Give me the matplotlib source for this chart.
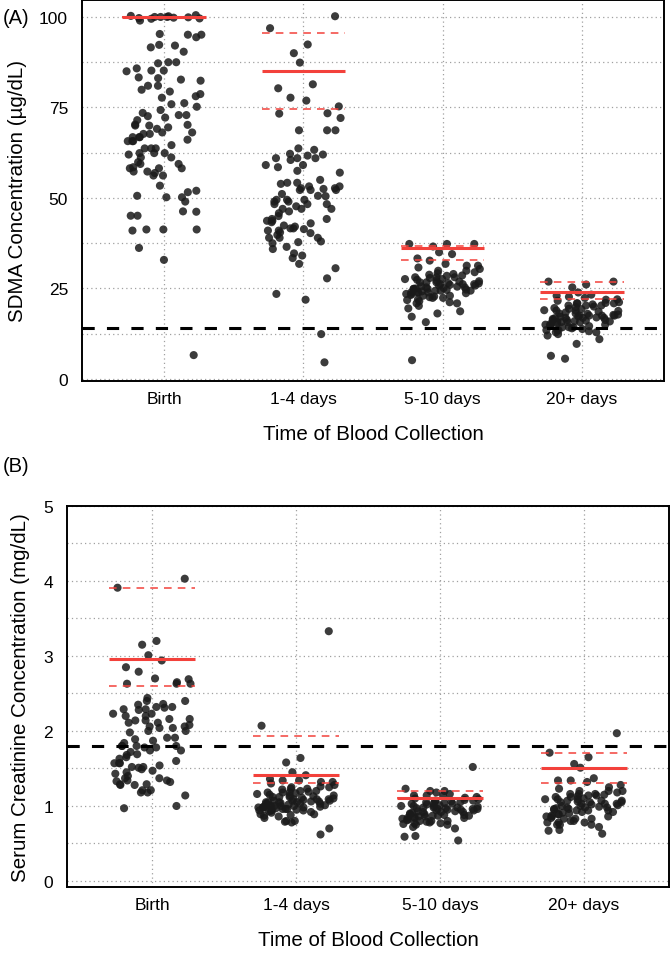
import matplotlib
matplotlib.use("Agg")
import matplotlib.pyplot as plt
import numpy as np

plt.rcParams['font.family'] = ['Liberation Sans', 'DejaVu Sans']

groups = ["Birth", "1-4 days", "5-10 days", "20+ days"]

# SDMA (ug/dL) per collection time
sdma_birth = [100.5, 100.3, 100.2, 100.0, 100.0, 99.8, 99.7, 99.5, 100.0, 99.6, 99.9, 99.0,
              95.1, 95.1, 95.3, 94.4, 92.3, 92.1, 91.6, 90.4, 87.5, 87.5, 87.2, 85.8, 85.2,
              85.2, 85.0, 83.3, 83.1, 82.4, 82.7, 81.0, 81.0, 79.9, 79.4, 78.7, 78.1, 77.7,
              76.2, 75.9, 75.2, 74.3, 73.5, 72.9, 72.9, 72.6, 72.2, 71.5, 70.3, 70.0, 70.0,
              70.2, 69.5, 69.1, 68.1, 68.1, 67.7, 67.7, 66.8, 66.8, 66.8, 66.1, 65.7, 65.7,
              65.7, 64.6, 63.7, 63.7, 63.7, 62.4, 62.4, 62.4, 62.0, 61.2, 61.2, 59.9, 59.4,
              59.4, 58.2, 58.2, 58.2, 58.5, 57.3, 57.3, 56.9, 56.2, 56.2, 53.4, 52.0, 51.6,
              50.6, 50.2, 50.2, 49.0, 46.3, 46.2, 45.1, 45.1, 41.3, 41.3, 41.3, 41.0, 36.2,
              32.9, 6.6]
sdma_d1_4 = [100.2, 96.9, 92.4, 90.0, 87.4, 81.4, 80.3, 77.7, 76.9, 75.3, 73.4, 73.3, 72.1,
             68.7, 68.7, 68.7, 63.7, 63.3, 62.2, 62.0, 61.7, 61.0, 61.0, 61.0, 60.5, 59.1,
             59.1, 58.5, 57.5, 57.0, 55.0, 54.2, 54.2, 53.9, 53.2, 53.2, 52.7, 52.7, 52.5,
             52.2, 52.2, 52.2, 51.1, 50.6, 50.5, 49.5, 49.5, 49.5, 49.0, 49.0, 48.3, 48.3,
             48.3, 47.7, 47.0, 47.0, 47.0, 46.3, 45.8, 45.0, 44.2, 44.2, 43.7, 43.7, 43.3,
             43.0, 42.4, 42.1, 41.6, 41.6, 41.4, 41.0, 41.0, 40.5, 40.3, 39.8, 39.0, 39.0,
             39.0, 38.0, 37.8, 37.5, 36.5, 35.9, 34.7, 34.1, 33.4, 31.8, 30.6, 27.8, 23.5,
             21.9, 12.4, 4.6]
sdma_d5_10 = [37.3, 37.3, 37.3, 36.6, 35.0, 34.5, 33.3, 32.7, 31.8, 31.3, 31.3, 30.8, 30.4,
              29.9, 29.9, 29.5, 29.2, 29.0, 28.8, 28.6, 28.5, 28.1, 28.1, 28.1, 27.9, 27.6,
              27.6, 27.4, 27.2, 27.0, 26.9, 26.7, 26.7, 26.7, 26.5, 26.4, 26.2, 26.2, 26.2,
              26.0, 25.8, 25.8, 25.6, 25.5, 25.3, 25.3, 25.1, 25.0, 24.9, 24.9, 24.9, 24.7,
              24.6, 24.4, 24.4, 24.4, 24.2, 23.9, 23.9, 23.9, 23.9, 23.7, 23.5, 23.5, 23.2,
              23.0, 23.0, 22.8, 22.6, 22.4, 22.4, 22.0, 21.8, 21.5, 21.2, 20.9, 20.9, 20.2,
              19.5, 18.7, 18.1, 17.2, 15.7, 5.2]
sdma_d20 = [26.9, 26.9, 26.1, 25.3, 23.9, 23.3, 23.0, 22.7, 22.4, 22.0, 21.9, 21.6, 21.2,
            21.0, 20.9, 20.9, 20.9, 20.6, 20.3, 20.3, 20.3, 20.0, 19.9, 19.6, 19.4, 19.3,
            19.0, 18.9, 18.9, 18.8, 18.6, 18.4, 18.1, 18.1, 18.0, 17.8, 17.7, 17.5, 17.5,
            17.5, 17.5, 17.3, 17.2, 17.0, 16.9, 16.9, 16.9, 16.8, 16.6, 16.3, 16.3, 16.3,
            16.1, 16.0, 15.9, 15.7, 15.7, 15.7, 15.7, 15.4, 15.2, 15.0, 15.0, 14.9, 14.7,
            14.6, 14.3, 14.3, 14.3, 14.0, 13.8, 13.5, 13.5, 13.5, 13.2, 12.9, 12.9, 12.4,
            12.0, 11.0, 9.7, 6.4, 5.6]

# serum creatinine (mg/dL) per collection time
creat_birth = [4.03, 3.91, 3.20, 3.15, 3.01, 2.94, 2.85, 2.79, 2.70, 2.69, 2.65, 2.63, 2.63,
               2.63, 2.44, 2.40, 2.40, 2.36, 2.35, 2.32, 2.32, 2.31, 2.29, 2.29, 2.28, 2.23,
               2.23, 2.20, 2.20, 2.16, 2.16, 2.14, 2.14, 2.11, 2.11, 2.08, 2.06, 2.06, 2.04,
               2.04, 2.00, 2.00, 1.98, 1.91, 1.91, 1.89, 1.87, 1.84, 1.80, 1.80, 1.80, 1.80,
               1.78, 1.78, 1.74, 1.74, 1.72, 1.69, 1.68, 1.65, 1.63, 1.60, 1.57, 1.57, 1.57,
               1.54, 1.52, 1.52, 1.51, 1.49, 1.47, 1.45, 1.43, 1.40, 1.37, 1.37, 1.34, 1.34,
               1.33, 1.32, 1.29, 1.29, 1.28, 1.28, 1.21, 1.21, 1.18, 1.18, 1.14, 1.00, 0.97]
creat_d1_4 = [3.33, 2.07, 1.64, 1.58, 1.45, 1.41, 1.36, 1.34, 1.34, 1.32, 1.32, 1.30, 1.28,
              1.26, 1.25, 1.25, 1.23, 1.23, 1.22, 1.20, 1.20, 1.19, 1.18, 1.18, 1.18, 1.17,
              1.16, 1.15, 1.14, 1.14, 1.13, 1.12, 1.12, 1.12, 1.11, 1.10, 1.09, 1.09, 1.09,
              1.08, 1.07, 1.07, 1.07, 1.06, 1.06, 1.05, 1.05, 1.05, 1.05, 1.04, 1.03, 1.03,
              1.03, 1.02, 1.01, 1.00, 1.00, 1.00, 1.00, 1.00, 0.99, 0.99, 0.98, 0.98, 0.98,
              0.98, 0.97, 0.96, 0.96, 0.96, 0.95, 0.94, 0.94, 0.94, 0.94, 0.93, 0.92, 0.91,
              0.89, 0.89, 0.88, 0.87, 0.86, 0.84, 0.80, 0.80, 0.79, 0.78, 0.70, 0.62]
creat_d5_10 = [1.52, 1.23, 1.20, 1.20, 1.18, 1.16, 1.14, 1.14, 1.14, 1.12, 1.11, 1.10, 1.09,
               1.08, 1.07, 1.07, 1.07, 1.06, 1.05, 1.05, 1.04, 1.03, 1.03, 1.03, 1.02, 1.01,
               1.00, 1.00, 1.00, 0.99, 0.98, 0.98, 0.98, 0.97, 0.97, 0.96, 0.96, 0.96, 0.95,
               0.95, 0.94, 0.94, 0.93, 0.93, 0.92, 0.92, 0.92, 0.91, 0.90, 0.89, 0.89, 0.88,
               0.88, 0.87, 0.87, 0.87, 0.86, 0.86, 0.85, 0.84, 0.84, 0.84, 0.83, 0.82, 0.81,
               0.80, 0.80, 0.80, 0.79, 0.78, 0.77, 0.77, 0.76, 0.75, 0.75, 0.72, 0.70, 0.60,
               0.59, 0.54]
creat_d20 = [1.97, 1.71, 1.65, 1.56, 1.51, 1.37, 1.34, 1.34, 1.32, 1.28, 1.25, 1.23, 1.20,
             1.20, 1.20, 1.18, 1.16, 1.16, 1.16, 1.15, 1.14, 1.14, 1.13, 1.12, 1.12, 1.10,
             1.09, 1.09, 1.09, 1.07, 1.07, 1.07, 1.06, 1.05, 1.05, 1.05, 1.03, 1.03, 1.03,
             1.02, 1.01, 1.00, 1.00, 0.99, 0.98, 0.98, 0.98, 0.97, 0.96, 0.96, 0.95, 0.94,
             0.94, 0.94, 0.92, 0.92, 0.91, 0.90, 0.89, 0.89, 0.87, 0.86, 0.86, 0.86, 0.84,
             0.83, 0.83, 0.83, 0.80, 0.80, 0.78, 0.78, 0.78, 0.75, 0.75, 0.75, 0.72, 0.68,
             0.67, 0.63]

# red reference lines (solid = centre, dashed = limits)
sdma_mid = [100.0, 85.2, 36.1, 24.0]
sdma_hi = [100.0, 95.6, 36.8, 26.9]
sdma_lo = [100.0, 74.5, 32.9, 22.1]
creat_mid = [2.96, 1.41, 1.11, 1.51]
creat_hi = [3.91, 1.93, 1.20, 1.71]
creat_lo = [2.60, 1.31, 1.10, 1.31]

sdma_cutoff = 14
creat_cutoff = 1.8

RED = '#f3413b'


def jitter(n, width=0.27):
    """Scatter n points across a band with a fixed hash pattern (no RNG)."""
    k = np.arange(1, n + 1)
    frac = (np.sin(k * 12.9898) * 43758.5453) % 1.0
    return (frac - 0.5) * 2 * width


def strip_panel(ax, series, mid, hi, lo, cutoff, ylim, major, minor, ylabel, label_x):
    """
    Draws one jittered strip panel with red reference lines.
    """
    pos = np.arange(1, len(groups) + 1)
    for p, vals in zip(pos, series):
        ax.scatter(p + jitter(len(vals)), vals, s=34, color='#1a1a1a',
                   alpha=0.85, edgecolors='none', zorder=2)
    ax.hlines(mid, pos - 0.3, pos + 0.3, color=RED, lw=2.2, zorder=4)
    for lim in (hi, lo):
        ax.hlines(lim, pos - 0.3, pos + 0.3, color=RED, lw=1.1,
                  linestyles=(0, (5, 4)), zorder=4)
    ax.axhline(cutoff, color='black', lw=2.2, dashes=(4, 4), zorder=5)

    ax.set_xlim(0.41, 4.59)
    ax.set_ylim(*ylim)
    ax.set_xticks(pos)
    ax.set_xticklabels(groups)
    ax.set_yticks(major)
    ax.set_yticks(minor, minor=True)
    ax.tick_params(which='both', length=0, labelsize=12.5)
    ax.tick_params(axis='x', pad=7)
    ax.tick_params(axis='y', pad=10)
    ax.grid(True, which='both', color='#a0a0a0', lw=0.9, linestyle=(0, (1, 2.5)))
    ax.set_axisbelow(True)
    for sp in ax.spines.values():
        sp.set_linewidth(1.4)
    ax.set_xlabel('Time of Blood Collection', fontsize=14.8)
    ax.xaxis.set_label_coords(0.5, -0.113)
    ax.set_ylabel(ylabel, fontsize=14.8)
    ax.yaxis.set_label_coords(label_x, 0.5)


fig = plt.figure(figsize=(6.72, 9.54), dpi=100)
ax_a = fig.add_axes([0.122, 0.5996, 0.866, 0.3994])
ax_b = fig.add_axes([0.0997, 0.0692, 0.8958, 0.3994])

strip_panel(ax_a, [sdma_birth, sdma_d1_4, sdma_d5_10, sdma_d20],
            sdma_mid, sdma_hi, sdma_lo, sdma_cutoff, (-0.55, 104.7),
            [0, 25, 50, 75, 100], np.arange(0, 101, 12.5),
            'SDMA Concentration (µg/dL)', -0.095)
strip_panel(ax_b, [creat_birth, creat_d1_4, creat_d5_10, creat_d20],
            creat_mid, creat_hi, creat_lo, creat_cutoff, (-0.08, 5.0),
            [0, 1, 2, 3, 4, 5], np.arange(0, 4.6, 0.5),
            'Serum Creatinine Concentration (mg/dL)', -0.0615)

fig.text(0.0045, 0.981, '(A)', fontsize=14.5, va='center', ha='left')
fig.text(0.0045, 0.511, '(B)', fontsize=14.5, va='center', ha='left')

fig.savefig('out.png', dpi=100)
